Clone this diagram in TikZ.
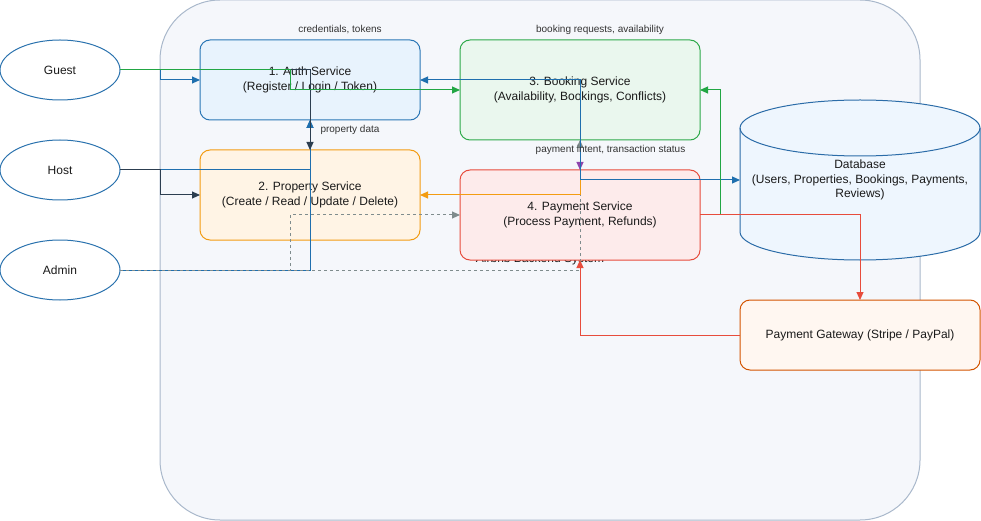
\documentclass[tikz,border=0pt]{standalone}
\usepackage{fontspec}
\setmainfont{Liberation Sans}
\usetikzlibrary{arrows.meta,shapes.geometric}
\definecolor{contf}{HTML}{F5F7FB}
\definecolor{contc}{HTML}{A9B8CB}
\definecolor{txt}{HTML}{1A1A1A}
\definecolor{ltxt}{HTML}{333333}
\definecolor{actorc}{HTML}{2A72AE}
\definecolor{authf}{HTML}{E8F3FD}
\definecolor{authc}{HTML}{2A77B6}
\definecolor{propf}{HTML}{FFF4E5}
\definecolor{propc}{HTML}{F39C12}
\definecolor{bookf}{HTML}{EAF7EE}
\definecolor{bookc}{HTML}{2EAA4A}
\definecolor{payf}{HTML}{FDEBEB}
\definecolor{payc}{HTML}{E74C3C}
\definecolor{gatef}{HTML}{FFF7F1}
\definecolor{gatec}{HTML}{D35400}
\definecolor{dbf}{HTML}{EEF6FE}
\definecolor{dbc}{HTML}{2B6CA8}
\definecolor{lblue}{HTML}{1F6FAE}
\definecolor{lgreen}{HTML}{22A644}
\definecolor{ldark}{HTML}{2C3E50}
\definecolor{lgray}{HTML}{7F8C8D}
\definecolor{lpurple}{HTML}{8E44AD}
\definecolor{lorange}{HTML}{F39C12}
\definecolor{lred}{HTML}{E74C3C}
\begin{document}
\begin{tikzpicture}[x=1pt,y=-1pt,line width=1pt,
  svc/.style={rectangle, rounded corners=10pt, inner sep=0pt, outer sep=0pt, align=center,
              font=\fontsize{12}{15}\selectfont, text=txt},
  actor/.style={ellipse, draw=actorc, fill=white, minimum width=120pt, minimum height=60pt,
              inner sep=0pt, outer sep=0pt, font=\fontsize{12}{15}\selectfont, text=txt},
  elabel/.style={font=\fontsize{10}{12}\selectfont, text=ltxt, inner sep=0pt},
  tip/.style={-{Triangle[length=8pt,width=7pt]}},
  dashedge/.style={dash pattern=on 3pt off 3pt},
]
\useasboundingbox (0,0) rectangle (981,521);

% container
\node[rectangle, rounded corners=60pt, draw=contc, fill=contf, minimum width=760pt,
      minimum height=520pt, inner sep=0pt, outer sep=0pt] (sys) at (540,260) {};
\node[font=\fontsize{12}{15}\selectfont, text=txt] (syslabel) at (540,259) {Airbnb Backend System};

% actors
\node[actor] (guest) at (60,70) {Guest};
\node[actor] (host) at (60,170) {Host};
\node[actor] (admin) at (60,270) {Admin};

% services
\node[svc, draw=authc, fill=authf, minimum width=220pt, minimum height=80pt] (auth) at (310,80)
  {1. Auth Service\\(Register / Login / Token)};
\node[svc, draw=propc, fill=propf, minimum width=220pt, minimum height=90pt] (prop) at (310,195)
  {2. Property Service\\(Create / Read / Update / Delete)};
\node[svc, draw=bookc, fill=bookf, minimum width=240pt, minimum height=100pt] (book) at (580,90)
  {3. Booking Service\\(Availability, Bookings, Conflicts)};
\node[svc, draw=payc, fill=payf, minimum width=240pt, minimum height=90pt] (pay) at (580,215)
  {4. Payment Service\\(Process Payment, Refunds)};
\node[svc, draw=gatec, fill=gatef, minimum width=240pt, minimum height=70pt] (gate) at (860,335)
  {Payment Gateway (Stripe / PayPal)};

% database cylinder
\fill[dbf] (740,128) -- (740,232) arc[start angle=180,end angle=0,x radius=120,y radius=28]
  -- (980,128) -- cycle;
\fill[dbf] (860,128) ellipse[x radius=120,y radius=28];
\draw[dbc] (740,128) -- (740,232) arc[start angle=180,end angle=0,x radius=120,y radius=28]
  -- (980,128);
\draw[dbc] (860,128) ellipse[x radius=120,y radius=28];
\node[rectangle, minimum width=240pt, minimum height=160pt, inner sep=0pt, outer sep=0pt,
      align=center, font=\fontsize{12}{14.5}\selectfont, text=txt] (db) at (860,180)
  {Database\\(Users, Properties, Bookings, Payments,\\Reviews)};

% connectors
\draw[lblue, tip] (host.east) -| (auth.south);
\draw[lblue, tip] (admin.east) -| (auth.south);
\draw[lgray, dashedge, tip] (admin.east) -- (290,270) |- (pay.west);
\draw[lgray, dashedge, tip] (admin.east) -| (book.south);
\draw[ldark, tip] (guest.east) -| (prop.north);
\draw[ldark, tip] (host.east) -- (160,170) |- (prop.west);
\draw[lblue, tip] (guest.east) -- (160,70) |- (auth.west);
\draw[lgreen, tip] (guest.east) -- (290,70) |- (book.west);
\draw[lorange, tip] (book.south) |- (prop.east);
\draw[lpurple, tip] (book.south) -- (pay.north);
\draw[lblue, {Triangle[length=8pt,width=7pt]}-{Triangle[length=8pt,width=7pt]}]
  (auth.east) -- (580,80) |- (db.west);
\draw[lgreen, tip] (pay.east) -- (720,215) |- (book.east);
\draw[lred, tip] (pay.east) -| (gate.north);
\draw[lred, tip] (gate.west) -| (pay.south);

% edge labels
\node[elabel] (l1) at (340,30) {credentials, tokens};
\node[elabel] (l2) at (600,30) {booking requests, availability};
\node[elabel] (l3) at (350,130) {property data};
\node[elabel] (l4) at (610.5,150) {payment intent, transaction status};
\end{tikzpicture}
\end{document}
